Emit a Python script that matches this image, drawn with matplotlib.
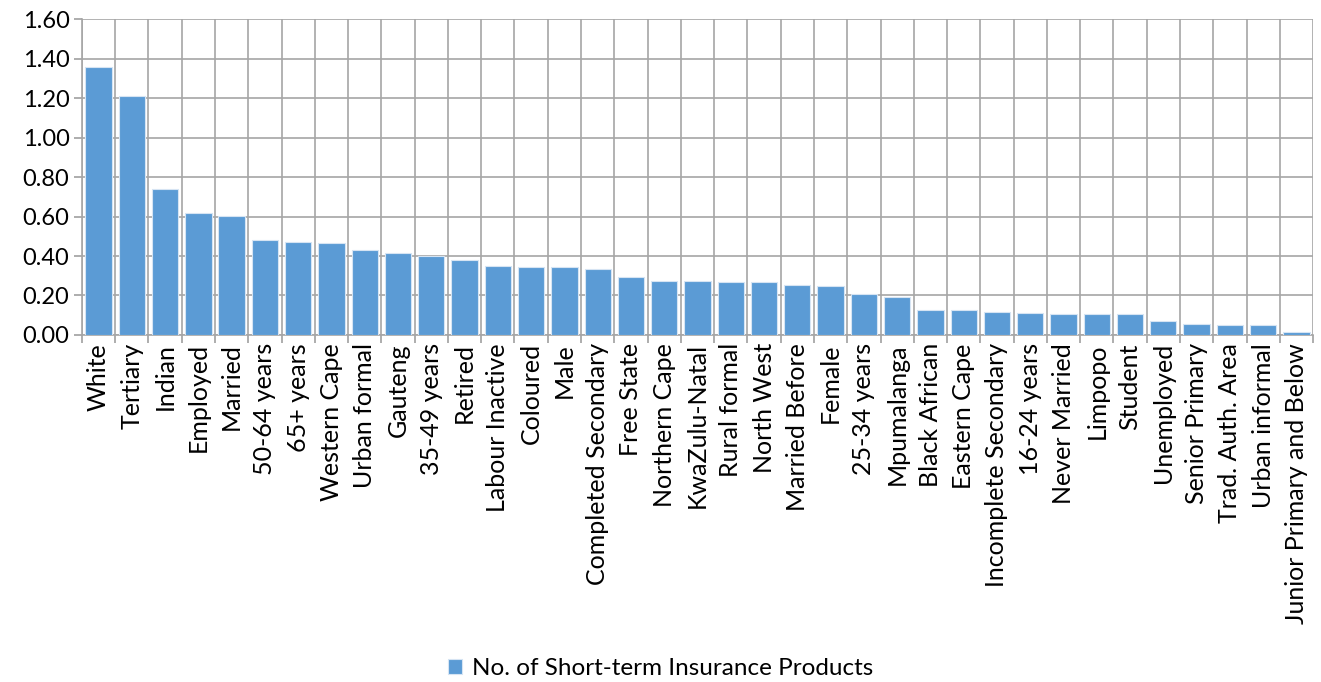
import numpy as np
import matplotlib.pyplot as plt
from matplotlib.ticker import FixedLocator, FormatStrFormatter

plt.rcParams['font.family'] = ['Lato', 'DejaVu Sans']

categories = [
    'White', 'Tertiary', 'Indian', 'Employed', 'Married', '50-64 years', '65+ years',
    'Western Cape', 'Urban formal', 'Gauteng', '35-49 years', 'Retired',
    'Labour Inactive', 'Coloured', 'Male', 'Completed Secondary', 'Free State',
    'Northern Cape', 'KwaZulu-Natal', 'Rural formal', 'North West', 'Married Before',
    'Female', '25-34 years', 'Mpumalanga', 'Black African', 'Eastern Cape',
    'Incomplete Secondary', '16-24 years', 'Never Married', 'Limpopo', 'Student',
    'Unemployed', 'Senior Primary', 'Trad. Auth. Area', 'Urban informal',
    'Junior Primary and Below',
]
products = [
    1.358, 1.213, 0.741, 0.617, 0.605, 0.483, 0.470,
    0.466, 0.431, 0.417, 0.399, 0.382,
    0.348, 0.346, 0.345, 0.333, 0.294,
    0.275, 0.272, 0.270, 0.267, 0.252,
    0.248, 0.206, 0.193, 0.127, 0.127,
    0.117, 0.111, 0.106, 0.106, 0.105,
    0.071, 0.057, 0.052, 0.051,
    0.017,
]

fig = plt.figure(figsize=(13.21, 6.82), dpi=100)
ax = fig.add_axes([0.062, 0.509, 0.932, 0.4625])

x = np.arange(len(categories))
ax.bar(x, products, width=0.79, color='#5B9BD5', edgecolor='#D6E4F3',
       linewidth=0.8, zorder=3, label='No. of Short-term Insurance Products')

ax.set_xlim(-0.5, len(categories) - 0.5)
ax.set_ylim(0, 1.6)
ax.set_yticks(np.arange(0, 1.61, 0.2))
ax.yaxis.set_major_formatter(FormatStrFormatter('%.2f'))

ax.set_xticks(x)
ax.set_xticklabels(categories, rotation=90, fontsize=18)
ax.xaxis.set_minor_locator(FixedLocator(np.arange(-0.5, len(categories), 1.0)))
ax.tick_params(axis='x', which='major', length=0, pad=6)
ax.tick_params(axis='x', which='minor', length=6, color='#A0A0A0', width=1.2)
ax.tick_params(axis='y', which='major', length=6, color='#A0A0A0', width=1.2,
               labelsize=17, pad=3)

ax.grid(axis='y', which='major', color='#A6A6A6', linewidth=1.2, zorder=0)
ax.grid(axis='x', which='minor', color='#A6A6A6', linewidth=1.2, zorder=0)
for side in ['top', 'right']:
    ax.spines[side].set_visible(False)
ax.spines['left'].set_color('#A6A6A6')
ax.spines['bottom'].set_color('#A6A6A6')
ax.spines['left'].set_linewidth(1.2)
ax.spines['bottom'].set_linewidth(1.2)

fig.legend(loc='center', bbox_to_anchor=(0.5, 0.02), frameon=False, fontsize=17.5,
           handlelength=0.6, handleheight=0.6, handletextpad=0.4)

fig.savefig('out.png', dpi=100)
